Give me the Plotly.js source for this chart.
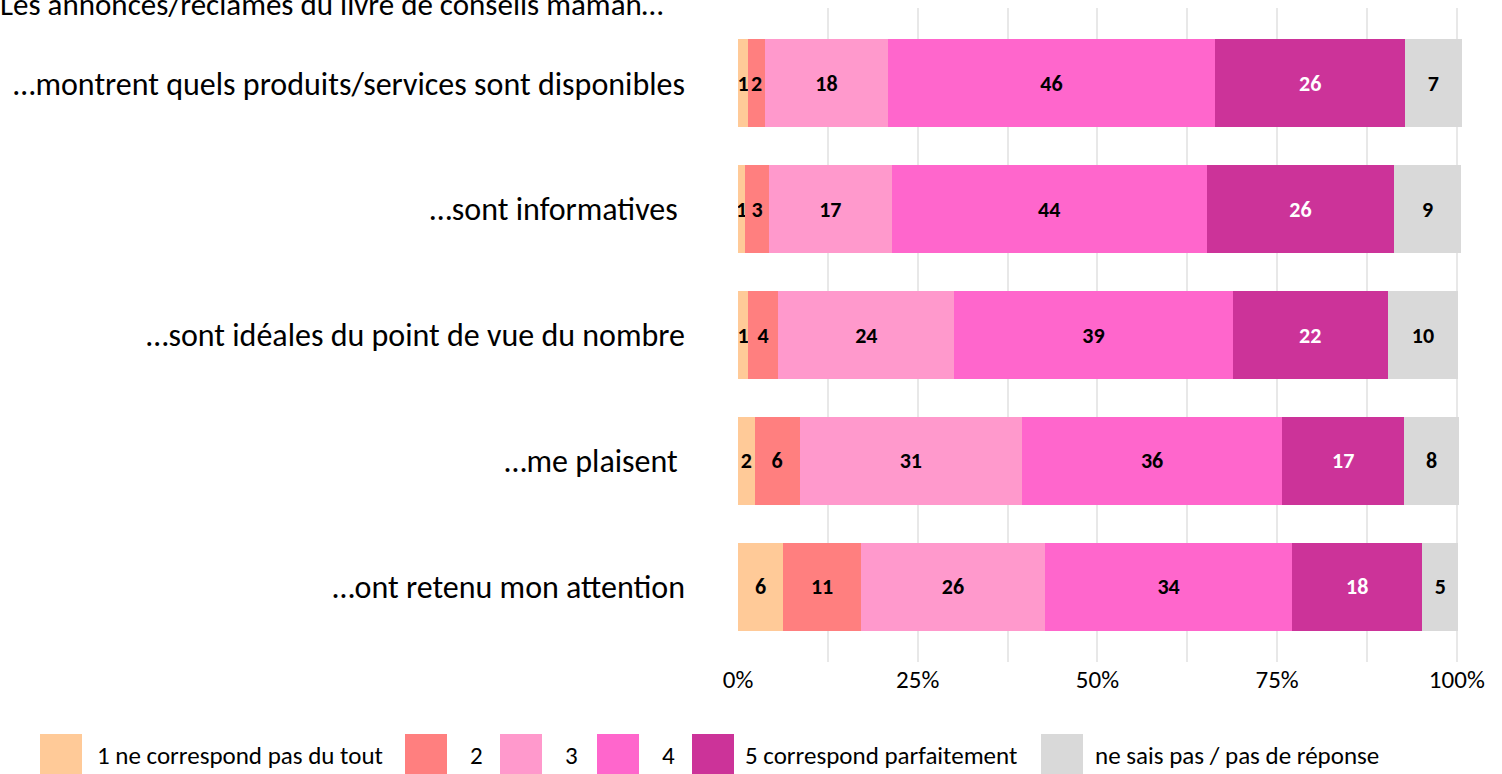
<!DOCTYPE html>
<html>
<head>
<meta charset="utf-8">
<script src="https://cdn.plot.ly/plotly-3.0.1.min.js"></script>
<style>html,body{margin:0;padding:0;background:#fff;}#chart{width:1502px;height:774px;}</style>
</head>
<body>
<div id="chart"></div>
<script>
// ---- data ----
const categories = [
  "…montrent quels produits/services sont disponibles",
  "…sont informatives ",
  "…sont idéales du point de vue du nombre",
  "…me plaisent ",
  "…ont retenu mon attention"
];
const seriesNames = [
  "1 ne correspond pas du tout",
  "2",
  "3",
  "4",
  "5 correspond parfaitement",
  "ne sais pas / pas de réponse"
];
// bar lengths (%)
const s1 = [1.4, 1.0, 1.4, 2.3, 6.3];
const s2 = [2.4, 3.3, 4.2, 6.3, 10.8];
const s3 = [17.0, 17.1, 24.5, 30.9, 25.6];
const s4 = [45.6, 43.8, 38.7, 36.2, 34.4];
const s5 = [26.4, 26.1, 21.6, 17.0, 18.1];
const s6 = [7.9, 9.3, 9.8, 7.6, 5.0];
// printed data labels
const l1 = [1, 1, 1, 2, 6];
const l2 = [2, 3, 4, 6, 11];
const l3 = [18, 17, 24, 31, 26];
const l4 = [46, 44, 39, 36, 34];
const l5 = [26, 26, 22, 17, 18];
const l6 = [7, 9, 10, 8, 5];
const xTickVals = [0, 25, 50, 75, 100];
const xTickText = ["0%", "25%", "50%", "75%", "100%"];
const titleText = "Les annonces/réclames du livre de conseils maman…";

// ---- styling ----
const colors = ["#FFCA98", "#FF7F7F", "#FF99CC", "#FF66CC", "#CC3399", "#D9D9D9"];
const labelColors = ["#000", "#000", "#000", "#000", "#fff", "#000"];
const FONT = "Carlito, Lato, 'Open Sans', sans-serif";

const values = [s1, s2, s3, s4, s5, s6];
const labels = [l1, l2, l3, l4, l5, l6];

const traces = values.map((v, i) => ({
  type: "bar",
  orientation: "h",
  name: seriesNames[i],
  y: categories,
  x: v,
  text: labels[i].map(String),
  textposition: "inside",
  insidetextanchor: "middle",
  textangle: 0,
  textfont: {family: FONT, size: 22, color: labelColors[i], weight: "bold"},
  marker: {color: colors[i], line: {width: 0}},
  hoverinfo: "x+y+name",
  showlegend: false
}));

// plot area in pixels
const L = 738, R = 1464, T = 8, B = 662;
const px2x = p => (p - L) / (R - L);
const py2y = p => (B - p) / (B - T);

// custom legend (large swatches)
const legBoxX = [40, 405, 500, 597, 692, 1041];
const legTextX = [95, 468, 563, 660, 743, 1093];
const legTop = 734, legBot = 774, legMid = 755;
const shapes = colors.map((c, i) => ({
  type: "rect", xref: "paper", yref: "paper",
  x0: px2x(legBoxX[i]), x1: px2x(legBoxX[i] + 42),
  y0: py2y(legBot), y1: py2y(legTop),
  fillcolor: c, line: {width: 0}, layer: "above"
}));
const annotations = seriesNames.map((n, i) => ({
  xref: "paper", yref: "paper",
  x: px2x(legTextX[i]), y: py2y(legMid),
  xanchor: "left", yanchor: "middle",
  text: n, showarrow: false,
  font: {family: FONT, size: 25, color: "#000"}
}));

const layout = {
  width: 1502, height: 774,
  margin: {l: L, r: 1502 - R, t: T, b: 774 - B, pad: 0},
  paper_bgcolor: "#fff", plot_bgcolor: "#fff",
  barmode: "stack",
  bargap: 0.3,
  showlegend: false,
  font: {family: FONT, color: "#000"},
  title: {
    text: titleText, xref: "container", yref: "container",
    x: 0, xanchor: "left", y: 0.995, yanchor: "middle",
    font: {family: FONT, size: 31, color: "#000"}
  },
  uniformtext: {mode: "show", minsize: 22},
  xaxis: {
    range: [0, 101],
    tickvals: xTickVals, ticktext: xTickText,
    showgrid: true, gridcolor: "#E8E8E8", gridwidth: 2,
    minor: {dtick: 12.5, tick0: 0, showgrid: true, gridcolor: "#E8E8E8", gridwidth: 2, ticks: ""},
    zeroline: false, showline: false, ticks: "",
    tickfont: {family: FONT, size: 25, color: "#000"},
    fixedrange: true
  },
  yaxis: {
    type: "category",
    categoryorder: "array", categoryarray: categories,
    range: [4.6, -0.6],
    showgrid: false, zeroline: false, showline: false, ticks: "",
    ticklabelstandoff: 52,
    tickfont: {family: FONT, size: 32, color: "#000"},
    fixedrange: true
  },
  shapes: shapes,
  annotations: annotations
};

Plotly.newPlot("chart", traces, layout, {displayModeBar: false, staticPlot: true});
</script>
</body>
</html>
